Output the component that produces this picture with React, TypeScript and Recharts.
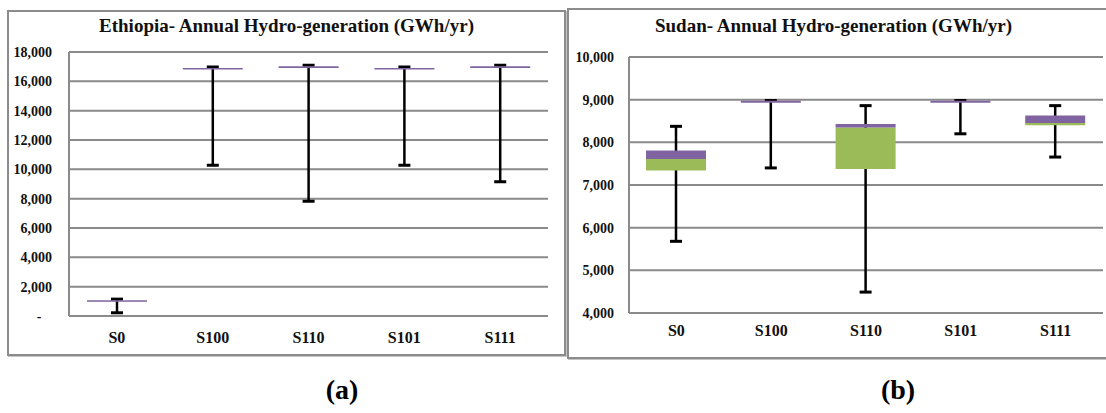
import { Bar, CartesianGrid, ComposedChart, XAxis, YAxis } from "recharts";

const scenarios = ["S0", "S100", "S110", "S101", "S111"];

// Ethiopia (GWh/yr)
const ethMin = [220, 10270, 7820, 10270, 9150];
const ethQ1 = [960, 16800, 16910, 16800, 16910];
const ethMed = [965, 16805, 16915, 16805, 16915];
const ethQ3 = [1070, 16910, 17020, 16910, 17020];
const ethMax = [1150, 16980, 17090, 16980, 17090];
const ethTicks = [0, 2000, 4000, 6000, 8000, 10000, 12000, 14000, 16000, 18000];

// Sudan (GWh/yr)
const sudMin = [5680, 7400, 4490, 8200, 7655];
const sudQ1 = [7340, 8925, 7375, 8925, 8400];
const sudMed = [7610, 8928, 8350, 8928, 8453];
const sudQ3 = [7810, 8972, 8430, 8972, 8630];
const sudMax = [8375, 8980, 8860, 8980, 8860];
const sudTicks = [4000, 5000, 6000, 7000, 8000, 9000, 10000];

const GREEN = "#9BBB59";
const PURPLE = "#8064A2";
const GRID = "#8a8a8a";
const FONT = "Liberation Serif, DejaVu Serif, serif";

const buildRows = (
  mn: number[],
  q1: number[],
  md: number[],
  q3: number[],
  mx: number[]
) =>
  scenarios.map((name, i) => ({
    name,
    min: mn[i],
    max: mx[i],
    base: q1[i],
    lower: md[i] - q1[i],
    upper: q3[i] - md[i],
  }));

const Whisker = (props: any) => {
  const { x, y, width, height } = props;
  const cx = x + width / 2;
  const top = Math.min(y, y + height);
  const bottom = Math.max(y, y + height);
  return (
    <g stroke="#000">
      <line x1={cx} x2={cx} y1={top} y2={bottom} strokeWidth={2.5} />
      <line x1={cx - 6} x2={cx + 6} y1={top} y2={top} strokeWidth={3} />
      <line x1={cx - 6} x2={cx + 6} y1={bottom} y2={bottom} strokeWidth={3} />
    </g>
  );
};

type ChartProps = {
  rows: any[];
  ticks: number[];
  width: number;
  height: number;
  margin: { top: number; right: number; bottom: number; left: number };
  xTickMargin: number;
  yTickMargin: number;
  zeroDash?: boolean;
};

const BoxChart = ({
  rows,
  ticks,
  width,
  height,
  margin,
  xTickMargin,
  yTickMargin,
  zeroDash,
}: ChartProps) => (
  <ComposedChart width={width} height={height} data={rows} margin={margin}>
    <CartesianGrid vertical={false} stroke={GRID} strokeWidth={2} />
    <XAxis
      dataKey="name"
      axisLine={{ stroke: GRID, strokeWidth: 2 }}
      tickLine={false}
      tickMargin={xTickMargin}
      height={30}
      tick={{ fill: "#111", fontSize: 16, fontWeight: 700, fontFamily: FONT }}
    />
    <XAxis xAxisId="w" dataKey="name" hide />
    <YAxis
      domain={[ticks[0], ticks[ticks.length - 1]]}
      ticks={ticks}
      allowDataOverflow
      width={60}
      axisLine={{ stroke: GRID, strokeWidth: 2 }}
      tickLine={false}
      tickMargin={yTickMargin}
      tickFormatter={(v: number) =>
        zeroDash && v === 0 ? "-\u00A0\u00A0\u00A0" : v.toLocaleString("en-US")
      }
      tick={{ fill: "#111", fontSize: 14, fontWeight: 700, fontFamily: FONT }}
    />
    <Bar
      xAxisId="w"
      dataKey={(d: any) => [d.min, d.max]}
      barSize={60}
      shape={<Whisker />}
      isAnimationActive={false}
    />
    <Bar dataKey="base" stackId="box" fill="none" barSize={60} isAnimationActive={false} />
    <Bar dataKey="lower" stackId="box" fill={GREEN} barSize={60} isAnimationActive={false} />
    <Bar dataKey="upper" stackId="box" fill={PURPLE} barSize={60} isAnimationActive={false} />
  </ComposedChart>
);

const panelBox: React.CSSProperties = {
  position: "absolute",
  border: "2px solid #8c8c8c",
  boxShadow: "1px 1px 0 #c4c4c4",
  background: "#fff",
  boxSizing: "border-box",
};

const titleStyle: React.CSSProperties = {
  position: "absolute",
  top: 15,
  fontFamily: FONT,
  fontWeight: 700,
  fontSize: 19,
  color: "#111",
  textAlign: "center",
  whiteSpace: "nowrap",
};

const capStyle: React.CSSProperties = {
  position: "absolute",
  top: 374,
  width: 80,
  fontFamily: FONT,
  fontWeight: 700,
  fontSize: 28,
  color: "#000",
  textAlign: "center",
};

export default function App() {
  const ethRows = buildRows(ethMin, ethQ1, ethMed, ethQ3, ethMax);
  const sudRows = buildRows(sudMin, sudQ1, sudMed, sudQ3, sudMax);
  return (
    <div
      style={{
        position: "absolute",
        left: 0,
        top: 0,
        width: 1106,
        height: 413,
        background: "#fff",
        overflow: "hidden",
      }}
    >
      <div style={{ ...panelBox, left: 7, top: 10, width: 559, height: 346 }} />
      <div style={{ ...panelBox, left: 567, top: 8, width: 545, height: 351 }} />

      <div style={{ ...titleStyle, left: 7, width: 559 }}>
        Ethiopia- Annual Hydro-generation (GWh/yr)
      </div>
      <div style={{ ...titleStyle, left: 567, width: 545 - 12 }}>
        Sudan- Annual Hydro-generation (GWh/yr)
      </div>

      <div style={{ position: "absolute", left: 0, top: 0 }}>
        <BoxChart
          rows={ethRows}
          ticks={ethTicks}
          width={560}
          height={360}
          margin={{ top: 52, right: 12, bottom: 14, left: 9 }}
          xTickMargin={10}
          yTickMargin={11}
          zeroDash
        />
      </div>
      <div style={{ position: "absolute", left: 560, top: 0 }}>
        <BoxChart
          rows={sudRows}
          ticks={sudTicks}
          width={546}
          height={360}
          margin={{ top: 57, right: 3, bottom: 17, left: 9 }}
          xTickMargin={6}
          yTickMargin={9}
        />
      </div>

      <div style={{ ...capStyle, left: 302 }}>(a)</div>
      <div style={{ ...capStyle, left: 858 }}>(b)</div>
    </div>
  );
}
